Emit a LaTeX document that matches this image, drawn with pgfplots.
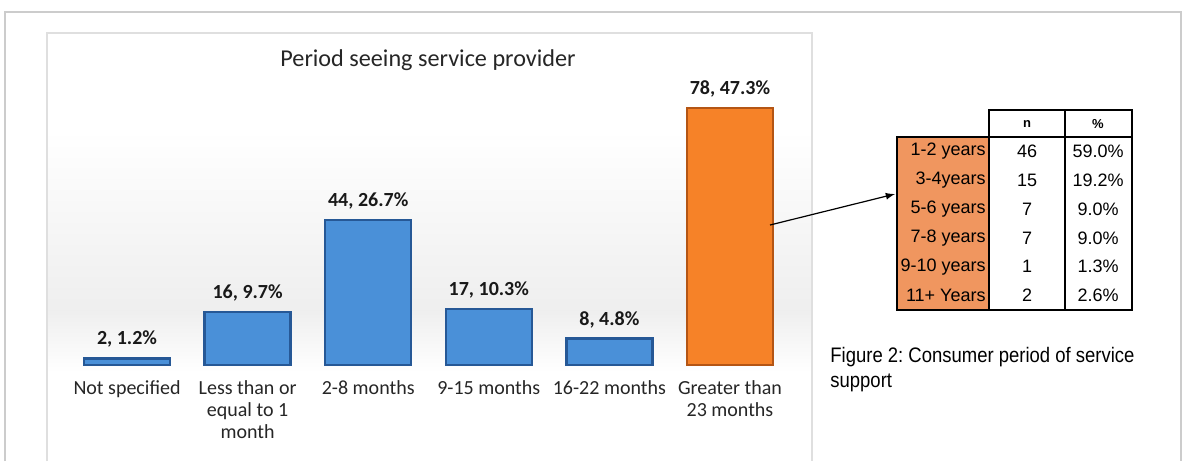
\documentclass[border=0pt]{standalone}
\usepackage{pgfplots}
\pgfplotsset{compat=1.18}
\usepackage{fontspec}
\setmainfont{Carlito}
\newfontfamily\arialn[FakeStretch=0.88]{Liberation Sans}
\newfontfamily\arial{Liberation Sans}
\definecolor{barblue}{RGB}{74,144,216}
\definecolor{bluedge}{RGB}{38,88,150}
\definecolor{barorange}{RGB}{246,130,40}
\definecolor{orangeedge}{RGB}{180,85,20}
\definecolor{cellorange}{RGB}{240,150,95}
\frenchspacing
\begin{document}
\begin{tikzpicture}
\begin{scope}[x=0.5pt,y=-0.5pt]
\path[use as bounding box] (0,0) rectangle (1186,461);
\fill[white] (0,0) rectangle (1186,461);
% outer frame
\draw[gray!40, line width=0.8pt] (5,461) -- (5,12) -- (1181,12) -- (1181,461);
% chart area background
\shade[top color=white, bottom color=gray!13] (48,130) rectangle (811,310);
\shade[top color=gray!13, bottom color=white] (48,310) rectangle (811,372);
\draw[gray!25, line width=0.8pt] (47,461) -- (47,33) -- (812,33) -- (812,461);
\node[font=\fontsize{12.1}{14}\selectfont, text=black!85] at (428,60) {Period seeing service provider};
\coordinate (A) at (66.75,365);
\end{scope}

\begin{axis}[at={(A)}, anchor=south west, scale only axis,
  width=361.75pt, height=131.8pt,
  xmin=-0.5, xmax=5.5, ymin=0, ymax=80, clip=false,
  axis line style={draw=none}, tick style={draw=none},
  ytick=\empty, xtick={0,1,2,3,4,5},
  xticklabels={Not specified,{Less than or\\equal to 1\\month},2-8 months,9-15 months,16-22 months,{Greater than\\23 months}},
  xticklabel style={font=\fontsize{10}{10.8}\selectfont, align=center, text=black!85, yshift=-4.5pt},
  nodes near coords style={font=\bfseries\fontsize{10}{11}\selectfont, text=black!90, yshift=1.5pt},
]
\addplot[ybar, bar width=43pt, bar shift=0pt, fill=barblue, draw=bluedge, line width=1.2pt,
  nodes near coords, point meta=explicit symbolic]
  coordinates {(0,2) [{2, 1.2\%}] (1,16) [{16, 9.7\%}] (2,44) [{44, 26.7\%}] (3,17) [{17, 10.3\%}] (4,8) [{8, 4.8\%}]};
\addplot[ybar, bar width=43pt, bar shift=0pt, fill=barorange, draw=orangeedge, line width=1.2pt,
  nodes near coords, point meta=explicit symbolic]
  coordinates {(5,78) [{78, 47.3\%}]};
\end{axis}

\begin{scope}[x=0.5pt,y=-0.5pt]
% arrow
\draw[-latex, line width=0.6pt] (770,225) -- (895,194);
% table
\fill[cellorange] (897,137) rectangle (989,310);
\draw[line width=1.2pt] (989,110) rectangle (1132,310);
\draw[line width=1.2pt] (1065,110) -- (1065,310);
\draw[line width=1.2pt] (989,137) -- (1132,137);
\draw[line width=1.2pt] (897,137) rectangle (989,310);
\node[font=\arial\bfseries\fontsize{6.5}{7}\selectfont] at (1027,124) {n};
\node[font=\arial\bfseries\fontsize{6.5}{7}\selectfont] at (1098,124) {\%};
\foreach \lab/\n/\p [count=\k from 0] in {1-2 years/46/59.0\%, 3-4years/15/19.2\%, 5-6 years/7/9.0\%, 7-8 years/7/9.0\%, 9-10 years/1/1.3\%, 11+ Years/2/2.6\%}{
  \pgfmathsetmacro{\yy}{137+28.83*(\k+0.5)}
  \node[font=\arial\fontsize{9}{10}\selectfont, anchor=east, inner sep=1pt] at (988,\yy) {\lab};
  \node[font=\arial\fontsize{9}{10}\selectfont] at (1027,\yy) {\n};
  \node[font=\arial\fontsize{9}{10}\selectfont] at (1098,\yy) {\p};
}
% caption
\node[anchor=base west, inner sep=0pt, font=\arialn\fontsize{10.5}{12.5}\selectfont] at (830,362) {Figure 2: Consumer period of service};
\node[anchor=base west, inner sep=0pt, font=\arialn\fontsize{10.5}{12.5}\selectfont] at (830,387) {support};
\end{scope}
\end{tikzpicture}
\end{document}
